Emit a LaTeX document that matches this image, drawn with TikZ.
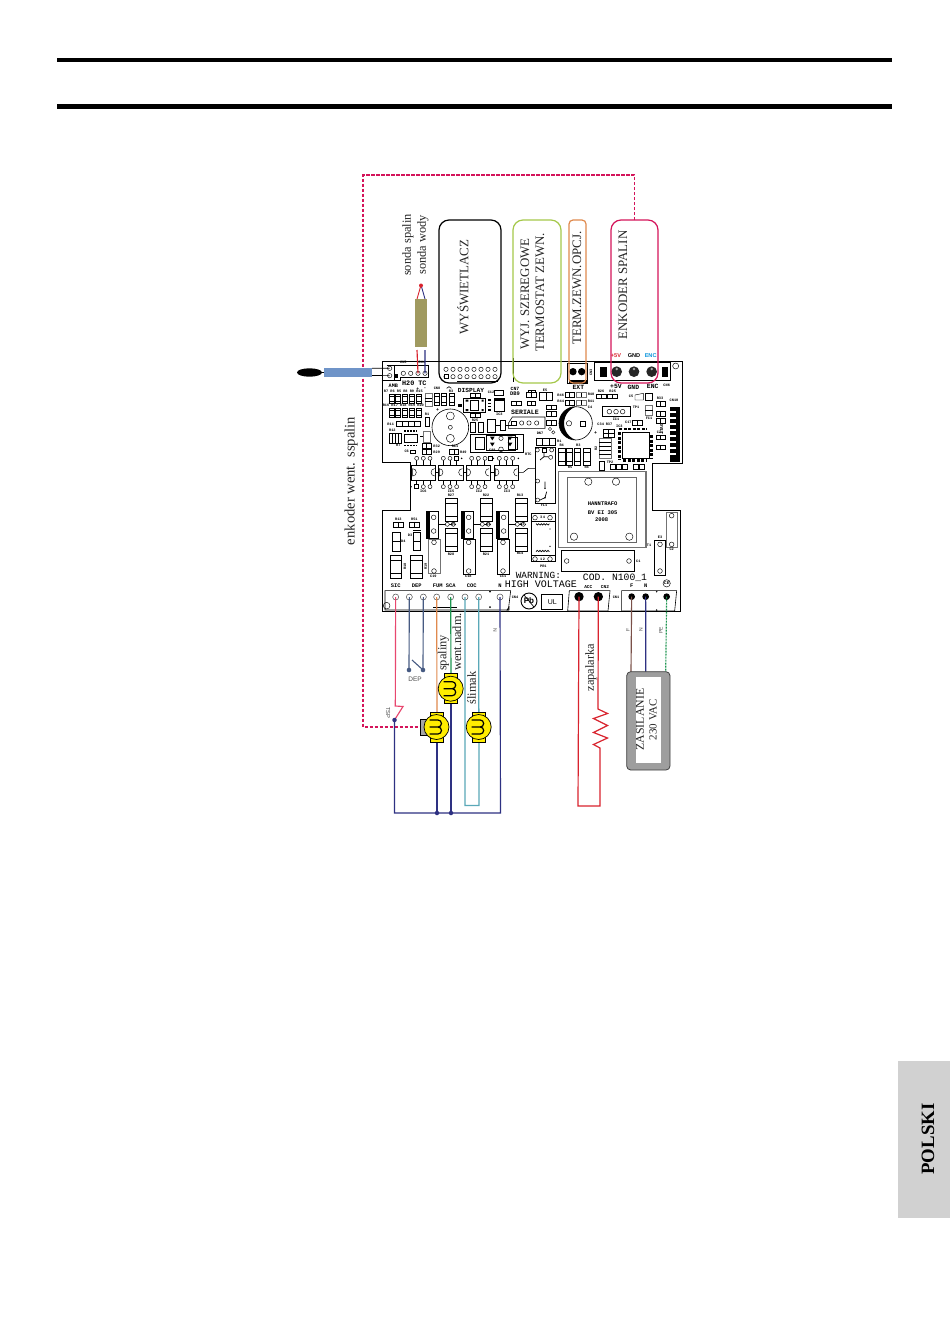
\documentclass[tikz,border=0pt]{standalone}
\usepackage{fontspec}
\setmainfont{Liberation Serif}
\setsansfont{Liberation Sans}
\setmonofont{Liberation Mono}
\definecolor{mag}{HTML}{D4145A}
\definecolor{lime}{HTML}{A5C84A}
\definecolor{org}{HTML}{E08A4E}
\definecolor{olive}{HTML}{A09A60}
\definecolor{probe}{HTML}{6F94C8}
\definecolor{navy}{HTML}{2E3182}
\definecolor{teal2}{HTML}{5AA8B8}
\definecolor{red2}{HTML}{D9232E}
\definecolor{pink2}{HTML}{E8476F}
\definecolor{slate}{HTML}{465A82}
\definecolor{green2}{HTML}{1E9650}
\definecolor{brown2}{HTML}{7A5048}
\definecolor{yel}{HTML}{FFED00}
\newcommand{\fs}[1]{\fontsize{#1}{#1}\selectfont}
\newcommand{\boxv}[4]{\draw[bd] (#1,#2) rectangle (#3,#4);\pgfmathsetmacro\ya{#2+(#4-#2)*.22}\pgfmathsetmacro\yb{#2+(#4-#2)*.78}\draw[bdl] (#1,\ya) -- (#3,\ya) (#1,\yb) -- (#3,\yb);}
\newcommand{\boxh}[4]{\draw[bd] (#1,#2) rectangle (#3,#4);\pgfmathsetmacro\xa{(#1+#3)/2}\draw[bdl] (\xa,#2) -- (\xa,#4);}
\newcommand{\hole}[2]{\draw[bdl,fill=white] (#1,#2) circle[radius=6.5];}
\newcommand{\motor}[3]{%
 \begin{scope}[shift={(#2,#3)}]
  \draw[mo,fill=yel] (-6.5,-15) rectangle (6.5,15);
  \draw[mo,fill=yel] (0,0) circle[radius=12.5];
  \draw[line width=1.2] (-7,-7) -- (1.5,-7) arc[start angle=-90,end angle=90,radius=3.5] -- (-7,0)
     (1.5,0) arc[start angle=-90,end angle=90,radius=3.5] -- (-7,7);
 \end{scope}}
\tikzset{
 x=1pt,y=-1pt,
 bd/.style={draw=black,line width=.6,fill=white},
 bdl/.style={draw=black,line width=.45},
 gb/.style={draw=black!55,line width=.7,fill=white},
 mo/.style={draw=black,line width=.7},
 rbx/.style={line width=1.2,rounded corners=10pt},
 lab/.style={font=\rmfamily\fs{12.9},text=black!85,rotate=90,inner sep=0},
 labs/.style={font=\rmfamily\fs{12.4},text=black!85,rotate=90,inner sep=0},
 board/.style={font=\ttfamily\bfseries\fs{7.5},inner sep=0},
 tiny/.style={font=\ttfamily\bfseries\fs{3.6},inner sep=0},
 sans/.style={font=\sffamily\fs{6.5},text=black!70,inner sep=0},
 wire/.style={line width=1.15},
 dot/.style={circle,fill=navy,inner sep=0,minimum size=4.5pt},
 za/.style={shift={(375,355)},x=.33333pt,y=-.33333pt},
 zb/.style={shift={(530,355)},x=.33333pt,y=-.33333pt},
 zc/.style={shift={(375,485)},x=.33333pt,y=-.33333pt},
 zd/.style={shift={(530,485)},x=.33333pt,y=-.33333pt},
}
\begin{document}
\begin{tikzpicture}
\useasboundingbox (0,0) rectangle (950,1344);
\fill[white] (0,0) rectangle (950,1344);
% header rules
\draw[line width=4.6] (57,60) -- (892,60);
\draw[line width=4.6] (57,106.5) -- (892,106.5);
% tab
\fill[black!18] (898,1061) rectangle (950,1218);
\node[font=\rmfamily\bfseries\fs{18.8},rotate=90,inner sep=0] (polski) at (928,1139) {POLSKI};

% ----- board outline -----
\draw[line width=.9,fill=white] (382,361) -- (682,361) -- (682,463) -- (652,463) -- (652,510) -- (680,510) -- (680,611) -- (382,611) -- (382,510) -- (410,510) -- (410,462) -- (382,462) -- cycle;

% ----- zone A: upper left -----
\begin{scope}[za]
 \node[board,font=\ttfamily\bfseries\fs{5.2}] at (55,92) {AMB};
 \draw[bdl] (35,30) -- (58,30) (20,75) -- (60,75);
 \coordinate (tAmbA) at (44,40); \coordinate (tAmbB) at (44,62);
 \hole{44}{40}\hole{44}{62}
 \draw[line width=.6] (58,30) -- (160,30) -- (160,68) -- (76,68) -- (76,75) -- (58,75) -- cycle;
 \fill (60,58) rectangle (70,70);
 \coordinate (tRed) at (129,55); \coordinate (tBlue) at (150,55);
 \hole{85}{55}\hole{107}{55}\hole{129}{55}\hole{150}{55}
 \node[board,font=\ttfamily\bfseries\fs{6.8}] at (118,84) {H20 TC};
 \node[board,font=\ttfamily\bfseries\fs{4.6}] at (128,102) {+};
 \node[board,font=\ttfamily\bfseries\fs{4.6}] at (150,102) {-};
 \node[tiny] at (85,22) {CN5}; \node[tiny] at (140,22) {CN4};
 \foreach \x in {44,62,83,104,123}{\boxv{\x}{118}{\the\numexpr\x+15\relax}{145}\boxv{\x}{160}{\the\numexpr\x+15\relax}{187}}
 \node[tiny] at (85,110) {R7 R6 R5 R8 R9 R15};
 \node[tiny] at (85,152) {R16 R17 R18 R19 R20};
 \draw[gb] (150,115) rectangle (172,155); \draw[bdl] (150,130) -- (172,130) (150,140) -- (172,140);
 \foreach \x in {178,200,222}{\boxv{\x}{115}{\the\numexpr\x+15\relax}{150}}
 \node[tiny] at (186,101) {CN8}; \node[tiny] at (228,109) {R3};
 \draw[line width=.6] (215,100) -- (222,95) -- (229,100);
 % display connector
 \foreach \x in {213,234,255,276,297,318,339,360}{\hole{\x}{43}\hole{\x}{65}}
 \draw[bdl,fill=white] (207,59) rectangle (219,71);
 \node[board,font=\ttfamily\bfseries\fs{6.2}] at (288,105) {DISPLAY};
 \draw[bdl] (247,80) -- (370,80);
 \draw[bdl] (415,10) -- (415,80);
 % small chip
 \draw[bd] (265,130) rectangle (330,172); \fill (250,146) rectangle (262,156);
 \draw[bdl] (285,135) rectangle (310,165);
 \fill (272,134) rectangle (280,140) (272,162) rectangle (280,168) (320,134) rectangle (326,140) (320,162) rectangle (326,168);
 \boxh{287}{115}{315}{127}\boxh{287}{175}{315}{187}
 \draw[bd] (359,107) rectangle (385,120);
 \draw[bd] (358,130) rectangle (387,170);\fill (358,130) rectangle (387,137);
 \foreach \y in {133,143,153,163}{\fill (340,\y) rectangle (347,\y+4);}
 \node[tiny] at (373,177) {IC3}; \node[tiny] at (348,111) {C12};
 % big cap
 \draw[bd] (226,217) circle[radius=55];
 \draw[bdl] (226,183) circle[radius=12];\draw[bdl] (226,217) circle[radius=6];\draw[bdl] (226,250) circle[radius=12];
 \node[board,font=\ttfamily\bfseries\fs{5}] at (188,165) {+};
 \boxh{64}{200}{100}{213}\boxh{100}{200}{135}{213}
 \node[tiny] at (47,207) {R11};
 \draw[bd] (150,188) rectangle (163,213); \node[tiny] at (156,178) {R1};
 \draw[bd] (286,203) rectangle (302,232); \draw[bd] (310,203) rectangle (326,232); \node[tiny] at (300,195) {R25};
 \draw[bd] (337,192) rectangle (360,232); \draw[bd] (376,197) rectangle (392,225);
 \draw[bdl] (360,212) -- (376,212) (392,212) -- (410,212);
 \boxh{44}{235}{62}{265}\boxh{62}{235}{80}{265}
 \node[tiny] at (52,227) {R12}; \node[tiny] at (70,272) {R7};
 \draw[bd] (88,237) rectangle (127,263);
 \draw[line width=1.2,dash pattern=on 1.6pt off 1.4pt] (88,228) -- (127,228) (88,271) -- (127,271);
 \draw[gb] (145,228) rectangle (165,262);\draw[bdl] (135,245) -- (145,245);
 \boxh{142}{266}{168}{279}\boxh{142}{284}{168}{297}\boxh{224}{284}{250}{297}
 \node[tiny] at (185,274) {R32}; \node[tiny] at (185,291) {R29}; \node[tiny] at (240,275) {Rk1}; \node[tiny] at (265,291) {R49};
 \draw[bd] (105,285) rectangle (122,296); \node[tiny] at (95,290) {C6};
 % relay box
 \draw[line width=.8] (285,237) rectangle (445,291);
 \draw[bdl,fill=white] (300,248) rectangle (328,282);\draw[bdl,fill=white] (400,248) rectangle (428,282);
 \draw[bdl] (335,240) rectangle (420,285);
 \foreach \x in {352,405}{\fill (\x-7,245) -- (\x+7,245) -- (\x,256) -- cycle; \fill (\x-7,263) -- (\x+7,263) -- (\x,274) -- cycle;}
 \hole{378}{250}\draw[bdl] (378,283) circle[radius=7];
 \node[tiny] at (352,285) {C88}; \node[tiny] at (460,297) {RTC};
 % seriale
 \node[board,font=\ttfamily\bfseries\fs{6.6}] at (450,172) {SERIALE};
 \draw[line width=.6] (400,205) -- (412,186) -- (510,186) -- (510,220) -- (400,220) -- cycle;
 \draw[bdl] (410,198) rectangle (423,211);
 \foreach \x in {440,462,485}{\draw[bdl] (\x,204) circle[radius=6.5];}
 \node[board,font=\ttfamily\bfseries\fs{4.8}] at (420,101) {CN7}; \node[board,font=\ttfamily\bfseries\fs{5.4}] at (420,116) {DB9};
 \boxh{410}{140}{440}{152}\boxh{460}{105}{480}{117}\boxh{457}{140}{480}{152}
 % optos
 \foreach \x/\w in {110/72,190/75,273/72,358/72}{
  \draw[bd] (\x,330) rectangle (\x+\w,376);
  \draw[bdl] (\x+3,341) arc[start angle=-90,end angle=90,radius=11] -- cycle;
  \draw[bdl] (\x+\w-3,341) arc[start angle=-90,end angle=-270,radius=11];
  \draw[bdl] (\x+15,310) -- (\x+15,330) (\x+35,310) -- (\x+35,330) (\x+55,310) -- (\x+55,330);
  \draw[bdl] (\x+15,376) -- (\x+15,393) (\x+35,376) -- (\x+35,393) (\x+55,376) -- (\x+55,393);
 }
 \foreach \x in {125,145,165,205,225,290,310,330,373,393,413}{\draw[bdl,fill=white] (\x,310) circle[radius=6];}
 \foreach \x in {245,345}{\draw[bdl,fill=white] (\x-6,304) rectangle (\x+6,316);}
 \foreach \x in {145,165,205,225,245,290,310,330,373,393,413}{\draw[bdl,fill=white] (\x,395) circle[radius=6];}
 \draw[bdl,fill=white] (119,389) rectangle (131,401);
 \foreach \x in {260,355,430}{\fill (\x,310) circle[radius=2.5];}
 \fill (108,395) circle[radius=2.5];
 \draw[bdl] (182,352) -- (190,352) (265,352) -- (273,352) (345,352) -- (358,352);
 \draw[line width=.6] (430,352) -- (445,352) -- (460,340) -- (480,340);
\end{scope}

% ----- zone B: upper right -----
\begin{scope}[zb]
 \draw[line width=.6,fill=white] (112,25) rectangle (172,85);
 \fill[black] (118,75) rectangle (172,85);
 \coordinate (tExtA) at (129,50); \coordinate (tExtB) at (155,50);
 \fill (129,50) circle[radius=11]; \fill (155,50) circle[radius=11];
 \node[board,font=\ttfamily\bfseries\fs{6.4}] at (145,97) {EXT};
 \node[tiny,rotate=90] at (183,52) {CN3};
 \draw[line width=.6] (192,22) -- (420,22) -- (420,75) -- (192,75) -- cycle;
 \fill (210,35) rectangle (230,65); \fill (395,35) rectangle (415,65);
 \foreach \x in {260,312,365}{\fill[black!85] (\x,50) circle[radius=16];\fill[black!35] (\x,42) circle[radius=4];}
 \node[board,font=\ttfamily\bfseries\fs{6.4}] at (258,94) {+5V};
 \node[board,font=\ttfamily\bfseries\fs{6.4}] at (310,97) {GND};
 \node[board,font=\ttfamily\bfseries\fs{6.4}] at (368,94) {ENC};
 \node[tiny] at (410,92) {CN6};
 \node[font=\sffamily\bfseries\fs{5.6},text=red2,inner sep=0] at (258,1) {+5V};
 \node[font=\sffamily\bfseries\fs{5.6},inner sep=0] at (312,1) {GND};
 \node[font=\sffamily\bfseries\fs{5.6},text=cyan!80!blue,inner sep=0] at (362,1) {ENC};
 \draw[bdl] (437,33) circle[radius=9];
 \boxh{-10}{113}{20}{127}\draw[bd] (28,112) rectangle (68,135);\draw[bdl] (48,112) -- (48,135);
 \node[tiny] at (45,105) {E5};
 \boxh{105}{113}{132}{127}\draw[gb] (140,113) rectangle (168,127);\draw[bdl] (154,113) -- (154,127);
 \boxh{105}{135}{132}{150}\draw[gb] (140,135) rectangle (168,150);\draw[bdl] (154,135) -- (154,150);
 \node[tiny] at (92,120) {R46}; \node[tiny] at (183,117) {R40}; \node[tiny] at (92,140) {R44}; \node[tiny] at (183,140) {R41};
 \boxh{200}{118}{228}{130}\boxh{232}{118}{262}{130}
 \node[tiny] at (213,110) {R26}; \node[tiny] at (248,110) {R25};
 \draw[bdl,fill=white] (315,120) -- (340,115) -- (340,135) -- (315,135) -- cycle;
 \draw[bdl,fill=white] (345,115) -- (368,115) -- (368,135) -- (345,135) -- cycle;
 \node[tiny] at (303,125) {C5}; \node[tiny] at (390,130) {R33};
 \boxh{50}{150}{78}{163}\boxh{50}{170}{78}{183}\boxh{50}{195}{78}{210}
 % cap
 \draw[bd] (137,205) circle[radius=50];
 \fill (137,155) arc[start angle=-90,end angle=-270,radius=50] arc[start angle=110,end angle=250,radius=53.2] -- cycle;
 \draw[bdl] (117,205) circle[radius=8]; \draw[bdl] (150,198) rectangle (165,213);
 \node[tiny] at (180,158) {C4};
 % IC1
 \draw[bd] (217,155) rectangle (300,183); \draw[line width=1.2] (217,155) -- (300,155);
 \foreach \x in {238,258,278}{\draw[bdl] (\x,170) circle[radius=7];}
 \node[tiny] at (258,192) {IC1}; \node[tiny] at (318,158) {TP1};
 % chip
 \draw[bd] (278,232) rectangle (358,310);
 \draw[line width=2.4,dash pattern=on 3pt off 1.5pt] (268,222) -- (350,222);
 \draw[line width=2.4,dash pattern=on 3pt off 1.5pt] (268,232) -- (268,316);
 \draw[line width=2.4,dash pattern=on 3pt off 1.5pt] (365,240) -- (365,312);
 \draw[line width=2.4,dash pattern=on 3pt off 1.5pt] (280,317) -- (350,317);
 \node[tiny] at (268,214) {IC3};
 \boxh{307}{196}{337}{210}\node[tiny] at (295,202) {C17};
 \draw[gb] (345,150) rectangle (368,180); \draw[bdl] (345,165) -- (368,165);
 \node[tiny] at (357,190) {FC1};
 \foreach \y in {140,170,190,240,270}{\boxh{378}{\y}{405}{\the\numexpr\y+14\relax}}
 \node[tiny,rotate=90,font=\ttfamily\bfseries\fs{4.4}] at (395,222) {JTAG};
 \node[tiny] at (390,232) {C21};
 % jtag comb
 \fill (420,155) rectangle (450,320);
 \foreach \y in {168,186,204,222,240,258,276,294}{\fill[white] (420,\y) rectangle (438,\y+7);}
 \node[tiny] at (432,136) {CN10};
 % caps middle
 \draw[bd] (220,222) rectangle (252,248);\draw[bdl] (236,222) -- (236,248) (220,235) -- (252,235);
 \node[board,font=\ttfamily\bfseries\fs{5}] at (197,235) {+};
 \node[tiny] at (212,208) {C34}; \node[tiny] at (237,208) {R37};
 \draw[gb] (208,250) rectangle (244,310);
 \foreach \y in {262,274,286,298}{\draw[bdl] (208,\y) -- (244,\y);}
 \node[tiny,rotate=90] at (198,280) {R2};
 \draw[bd] (207,318) rectangle (222,345);\node[tiny] at (240,322) {TP2};
 \foreach \x in {240,258,276,310,328}{\draw[bd] (\x,328) rectangle (\x+16,342);}
 \foreach \x in {85,108,132,160}{\boxv{\x}{280}{\the\numexpr\x+20\relax}{330}}
 \node[tiny] at (120,338) {R5}; \node[tiny] at (170,338) {R4}; \node[tiny] at (95,270) {R4}; \node[tiny] at (145,270) {R3};
 % bar above relay
 \draw[bd] (20,250) rectangle (75,270);\draw[bdl] (37,250) -- (37,270) (55,250) -- (55,270);
 \node[tiny] at (30,235) {DN7};
 \foreach \x/\y in {60/222,70/232}{\draw[bdl,fill=white] (\x,\y) circle[radius=5];}
\end{scope}

% ----- zone C: lower left -----
\begin{scope}[zc]
 \foreach \x in {212,317,422}{
  \boxv{\x}{40}{\the\numexpr\x+35\relax}{108}
  \boxv{\x}{130}{\the\numexpr\x+35\relax}{198}
  \draw[bdl] (\x-22,118) -- (\x,118) (\x+5,118) -- (\x+30,118);
  \draw[bdl,fill=white] (\x+5,118) circle[radius=6];
  \draw[bdl,fill=white] (\x+23,118) circle[radius=6];
 }
 \node[tiny] at (228,31) {R27};\node[tiny] at (228,207) {R28};
 \node[tiny] at (333,31) {R22};\node[tiny] at (333,207) {R21};
 \node[tiny] at (435,31) {R13};\node[tiny] at (435,205) {R14};
 \node[tiny] at (235,118) {Q5};\node[tiny] at (340,118) {Q4};\node[tiny] at (442,118) {Q3};
 \foreach \x in {155,260,365}{
  \draw[bd] (\x,80) rectangle (\x+35,160);
  \fill (\x,80) rectangle (\x+10,160);
  \draw[bdl] (\x+21,97) circle[radius=7]; \draw[bdl] (\x+21,138) circle[radius=7];
 }
 \draw[gb] (160,163) rectangle (195,265);
 \draw[bd] (265,163) rectangle (300,268);
 \draw[bd] (367,163) rectangle (402,268);
 \foreach \x in {177,281,384}{\draw[bdl] (\x,172) circle[radius=7]; \draw[bdl] (\x,258) circle[radius=7];}
 \node[tiny] at (175,275) {C19}; \node[tiny] at (280,275) {C18}; \node[tiny] at (384,275) {C11};
 \boxh{55}{112}{85}{127}\boxh{103}{112}{133}{127}
 \node[tiny] at (70,104) {R13}; \node[tiny] at (118,104) {R51};
 \draw[bd] (52,142) rectangle (75,200);\draw[bdl] (52,170) -- (75,170);
 \draw[bd] (115,142) rectangle (137,197);\draw[bdl] (115,170) -- (137,170);
 \draw[line width=.8] (115,136) -- (137,136); \draw[line width=.8] (52,200) -- (75,200);
 \node[tiny] at (85,170) {D4}; \node[tiny] at (105,152) {D3};
 \boxv{45}{212}{80}{280}\boxv{107}{212}{143}{280}
 \node[tiny,rotate=90] at (90,245) {R18}; \node[tiny,rotate=90] at (152,245) {R19};
 \node[tiny] at (145,18) {IC6}; \node[tiny] at (228,18) {IC5}; \node[tiny] at (312,18) {IC2}; \node[tiny] at (396,18) {IC3};
 % terminal strip
 \draw[line width=.6] (30,317) -- (407,317) -- (400,375) -- (30,375) -- cycle;
 \draw[bdl] (35,362) circle[radius=10];
 \draw[line width=.8] (175,366) -- (245,366);
 \fill (345,320) circle[radius=3]; \fill (345,366) circle[radius=3];
 \draw[line width=.6,fill=black!30] (396,375) -- (402,366) -- (402,375) -- cycle;
 \node[tiny] at (420,338) {CN4};
 \foreach \n/\x in {tSIC/62,tDEPa/103,tDEPb/145,tFUMa/185,tFUMb/227,tCOCa/270,tCOCb/311,tNn/375}{
  \coordinate (\n) at (\x,336);
  \draw[line width=.5,draw=black!70,fill=white] (\x,336) circle[radius=9];
 }
 \node[board,font=\ttfamily\bfseries\fs{5.4}] at (62,303) {SIC};
 \node[board,font=\ttfamily\bfseries\fs{5.4}] at (125,303) {DEP};
 \node[board,font=\ttfamily\bfseries\fs{5.4}] at (208,303) {FUM SCA};
 \node[board,font=\ttfamily\bfseries\fs{5.4}] at (290,303) {COC};
 \node[board,font=\ttfamily\bfseries\fs{5.4}] at (375,303) {N};
\end{scope}

% ----- zone D: lower right -----
\begin{scope}[zd]
 % bar R1
 \draw[bd] (20,-140) rectangle (75,-118);\draw[bdl] (38,-140) -- (38,-118) (57,-140) -- (57,-118);
 \node[tiny] at (88,-130) {R1};
 % relay FL1
 \draw[line width=.7,fill=white] (15,-112) rectangle (75,55);
 \foreach \x/\y in {22/-105,65/-105,62/-83,23/-12,23/45}{\draw[bdl,fill=white] (\x,\y) circle[radius=6];}
 \draw[bdl] (36,-111) rectangle (48,-99);
 \draw[line width=.7] (42,-99) -- (42,-85) -- (56,-85) (30,-75) -- (42,-85);
 \draw[line width=.7] (45,-10) -- (45,10) (45,38) -- (30,45) (45,38) -- (50,20);
 \fill (45,10) circle[radius=2.5] (45,38) circle[radius=2.5];
 \node[tiny] at (42,62) {FL1};
 % PR1
 \draw[bd] (5,85) rectangle (75,230);
 \draw[bdl] (5,108) -- (75,108) (5,210) -- (75,210);
 \foreach \x/\y in {15/98,60/98,15/222,60/222}{\draw[bdl] (\x,\y) circle[radius=7];}
 \draw[line width=.7] (18,116) arc[start angle=180,end angle=0,radius=4] arc[start angle=180,end angle=0,radius=4] arc[start angle=180,end angle=0,radius=4] arc[start angle=180,end angle=0,radius=4] arc[start angle=180,end angle=0,radius=4];
 \draw[line width=.7] (18,200) arc[start angle=180,end angle=360,radius=4] arc[start angle=180,end angle=360,radius=4] arc[start angle=180,end angle=360,radius=4] arc[start angle=180,end angle=360,radius=4] arc[start angle=180,end angle=360,radius=4];
 \fill (60,132) circle[radius=2]; \fill (60,184) circle[radius=2];
 \node[tiny] at (38,98) {3\,4}; \node[tiny] at (38,222) {1\,2}; \node[tiny] at (40,243) {PR1};
 % transformer
 \draw[line width=1.2,draw=black!55,fill=white] (85,-40) rectangle (348,188);
 \draw[line width=.9,draw=black!60] (112,-22) rectangle (318,172);
 \foreach \x/\y in {175/-10,258/-10,132/155,298/155}{\draw[bdl,fill=white] (\x,\y) circle[radius=11];}
 \node[board,font=\ttfamily\bfseries\fs{5.5}] at (218,56) {HANNTRAFO};
 \node[board,font=\ttfamily\bfseries\fs{5.5}] at (218,82) {BV EI 305};
 \node[board,font=\ttfamily\bfseries\fs{5.5}] at (215,105) {2008};
 % C1
 \draw[line width=.7,fill=white] (95,197) rectangle (313,260);
 \draw[bdl] (110,228) circle[radius=7]; \draw[bdl] (297,228) circle[radius=7];
 \node[tiny] at (325,230) {C1};
 % T1 etc
 \draw[bd] (373,165) rectangle (407,270);
 \draw[bdl] (390,178) circle[radius=7]; \draw[bdl] (390,258) circle[radius=7];
 \node[tiny] at (390,158) {E3}; \node[tiny] at (357,180) {T1};
 \draw[gb] (408,83) rectangle (443,187);
 \draw[bdl] (425,92) circle[radius=7]; \draw[bdl] (425,178) circle[radius=7];
 \node[tiny] at (425,193) {C2};
 % text
 \node[font=\ttfamily\fs{9.4},inner sep=0] at (25,270) {WARNING:};
 \node[font=\ttfamily\fs{10},inner sep=0,anchor=east] at (141,297) {HIGH VOLTAGE};
 \node[font=\ttfamily\fs{9.7},inner sep=0] at (255,278) {COD. N100\_1};
 % UL
 \draw[line width=.7] (35,327) rectangle (98,372);
 \node[font=\sffamily\fs{7},inner sep=0] at (67,350) {UL};
 \draw[line width=.9] (-3,348) circle[radius=24];
 \node[font=\sffamily\bfseries\fs{8},inner sep=0] at (-3,348) {Pb};
 \draw[line width=.7] (-18,330) -- (12,366);
 % ACC
 \node[tiny,font=\ttfamily\bfseries\fs{4.5}] at (175,305) {ACC}; \node[tiny,font=\ttfamily\bfseries\fs{4.5}] at (225,307) {CN2};
 \draw[line width=.6] (118,317) -- (240,317) -- (234,378) -- (113,378) -- cycle;
 \coordinate (tAccA) at (147,335); \coordinate (tAccB) at (205,335);
 \fill (147,335) circle[radius=14]; \fill (205,335) circle[radius=14];
 % F N
 \node[board,font=\ttfamily\bfseries\fs{5.4}] at (305,302) {F}; \node[board,font=\ttfamily\bfseries\fs{5.4}] at (347,302) {N};
 \node[tiny] at (258,338) {CN1};
 \draw[bdl] (410,295) circle[radius=11];
 \node[font=\sffamily\bfseries\fs{4},inner sep=0] at (410,295) {CE};
 \draw[line width=.6] (275,317) -- (440,317) -- (434,378) -- (275,378) -- cycle;
 \fill (380,320) circle[radius=2.5]; \fill (380,375) circle[radius=2.5];
 \coordinate (tF) at (305,335); \coordinate (tN) at (347,335); \coordinate (tPE) at (410,335);
 \foreach \x in {305,347,410}{\fill (\x,335) circle[radius=10];}
\end{scope}

% ----- coordinates of the field side -----
\coordinate (tspA) at (395.3,706);
\coordinate (tspB) at (403,706.5);
\coordinate (tspDot) at (394.5,720);
\coordinate (depA) at (409,670);
\coordinate (depB) at (423,670);
\coordinate (busA) at (437,813);
\coordinate (busB) at (451,813);
\coordinate (busL) at (394.5,813);
\coordinate (busR) at (500.5,813);

% ----- encoder dashed link -----
\draw[mag,line width=1.8,dash pattern=on 3.2pt off 1.8pt] (634.5,220) -- (634.5,175) -- (363,175) -- (363,727) -- (421,727);

% ----- wires below the board -----
\draw[pink2,wire] (tSIC) -- (tspA) -- (tspB) -- (tspDot);
\draw[slate,wire] (tDEPa) -- (depA);
\draw[slate,wire] (tDEPb) -- (depB);
\draw[slate,line width=1.1] (depB) ++(-.5,-.5) -- (412,660);
\fill[slate] (depA) circle[radius=2.3] (depB) circle[radius=2.3];
\node[sans] (deplab) at (415,679) {DEP};
\draw[org,wire] (tFUMa) -- (437,715);
\draw[green2,wire] (tFUMb) -- (451,677);
\draw[teal2,line width=1.3] (tCOCa) -- (465,805.5) -- (479,805.5) -- (tCOCb);
\draw[navy,wire] (tNn) -- (busR) -- (busL) -- (tspDot);
\draw[navy,wire] (busA) -- (437,735);
\draw[navy,wire] (busB) -- (451,700);
\node[dot] (dotA) at (busA) {};
\node[dot] (dotB) at (busB) {};
\node[dot] (dotT) at (tspDot) {};
\node[sans,rotate=-90,font=\sffamily\fs{5.8}] (tsplab) at (388,713) {TSP};
\node[sans,rotate=-90,font=\sffamily\fs{5}] (nlab) at (495,630) {N};

% sensor probes
\draw[line width=.7] (tAmbA) -- (372,368.3) (tAmbB) -- (372,375.5);
\fill[probe] (324,368) rectangle (372,377);
\fill (309.5,372.5) ellipse[x radius=12.5,y radius=4.2];
\draw[line width=1.2] (320,372.5) -- (324,372.5);
\fill[olive] (415,299) rectangle (427,347);
\draw[red2,line width=.9] (417,299) -- (421,285);
\draw[navy,line width=.9] (425,299) -- (421,285);
\fill[red2] (421,285.5) circle[radius=2];
\draw[red2,wire] (tRed) -- (417,350);
\draw[navy,wire] (tBlue) -- (425,350);

% ignition
\draw[red2,line width=1.2] (tAccA) -- (578,806) -- (600,806) -- (600,748) -- (593.5,744.5) -- (607.5,738) -- (593.5,732.5) -- (607.5,725.5) -- (593.5,718.5) -- (607.5,713.5) -- (598,709) -- (tAccB);
% supply
\draw[brown2,wire] (tF) -- (631,672);
\draw[navy,wire] (tN) -- (645.7,672);
\draw[green2,wire,dash pattern=on 2pt off 1pt] (tPE) -- (665.7,672);
\draw[black!75,line width=.8,fill=black!38,rounded corners=4pt] (626.7,671.7) rectangle (670,770);
\fill[white] (636,676.7) rectangle (660.7,763.3);
\node[font=\rmfamily\fs{11.8},rotate=90,inner sep=0,text=black!85] (zas1) at (640,719.5) {ZASILANIE};
\node[font=\rmfamily\fs{11},rotate=90,inner sep=0,text=black!85] (zas2) at (653,719.5) {230 VAC};
\node[sans,rotate=90,font=\sffamily\fs{5}] (lf) at (628,630) {F};
\node[sans,rotate=90,font=\sffamily\fs{5}] (ln) at (641,630) {N};
\node[sans,rotate=90,font=\sffamily\fs{5}] (lpe) at (661,630) {PE};

% motors
\draw[mo,fill=black!35] (420.5,719) rectangle (428,735);
\motor{m1}{436.5}{727}
\motor{m2}{450.7}{688.7}
\motor{m3}{478.7}{727}

% labelled rounded frames
\draw[rbx,draw=black] (439,220) rectangle (501,383);
\draw[rbx,draw=lime] (513,220) rectangle (561,383);
\draw[rbx,draw=org,rounded corners=4pt] (569,220) rectangle (586,383);
\draw[rbx,draw=mag] (611,220) rectangle (658,383);
\node[lab] (disp) at (463,287) {WYŚWIETLACZ};
\node[lab] (ser1) at (525,294) {WYJ. SZEREGOWE};
\node[lab] (ser2) at (540,292.5) {TERMOSTAT ZEWN.};
\node[lab] (term) at (577,288) {TERM.ZEWN.OPCJ.};
\node[lab] (enk) at (623,285) {ENKODER SPALIN};
\node[labs] (son1) at (408,245) {sonda spalin};
\node[labs] (son2) at (423,245) {sonda wody};
\node[lab,font=\rmfamily\fs{14.6}] (went) at (351,481) {enkoder went. sspalin};
\node[labs] (spal) at (443.5,653) {spaliny};
\node[labs] (nadm) at (457,642) {went.nadm.};
\node[labs] (slim) at (471.7,688) {ślimak};
\node[labs] (zap) at (591,667.5) {zapalarka};
\end{tikzpicture}
\end{document}
